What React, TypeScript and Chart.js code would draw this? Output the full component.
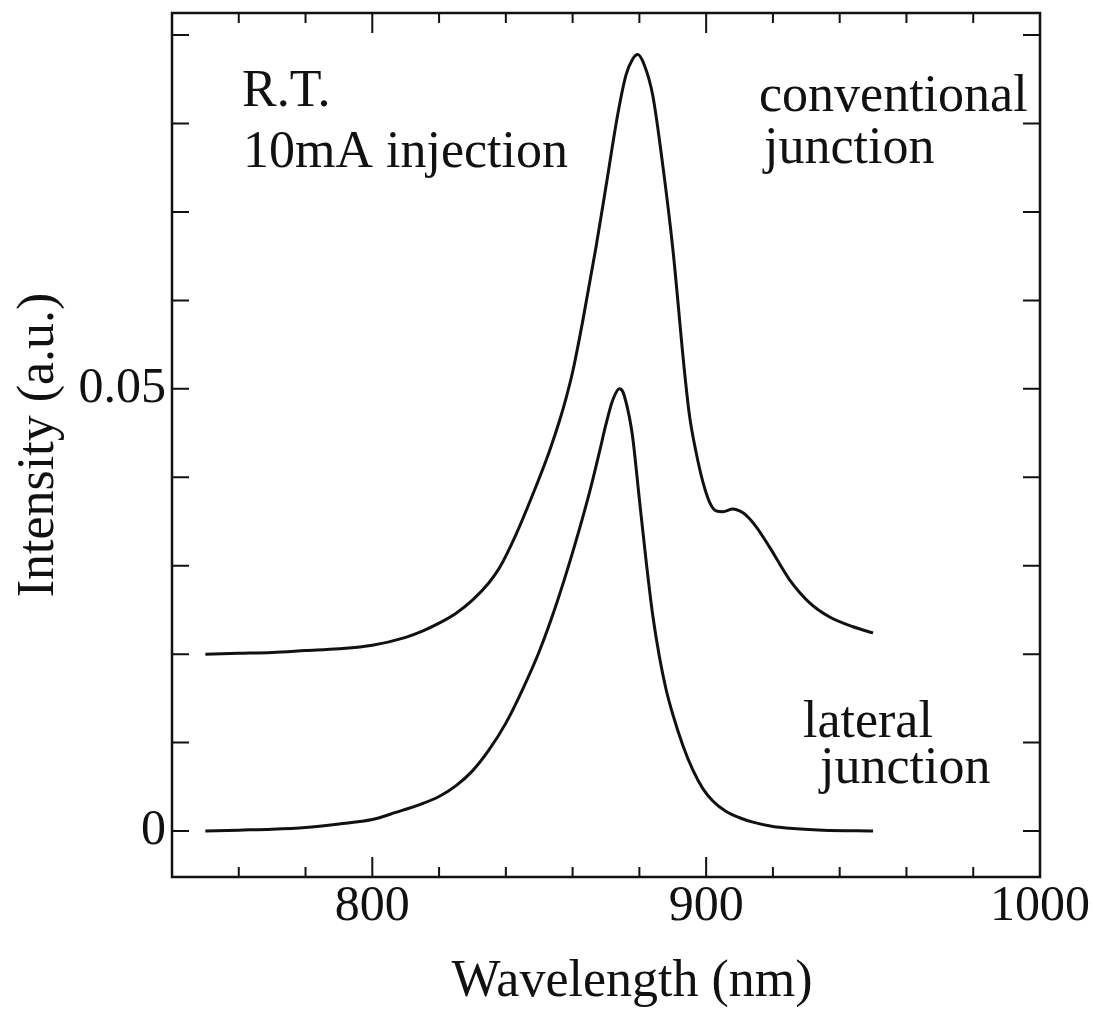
import React, { useEffect, useRef } from 'react';
import { Chart, registerables } from 'chart.js';

Chart.register(...registerables);

// Wavelength (nm) and intensity (a.u.)
const conventionalWavelength = [
  750, 760, 770, 780, 790, 800, 810, 815, 820, 825, 830, 835, 838, 843, 848, 853, 856, 858, 860, 863,
  867, 870, 873.5, 876, 878, 879.5, 881.5, 884, 887, 890, 893.5, 895, 897, 899, 901, 903, 905, 908, 910,
  912, 915, 919, 925, 931, 937, 944, 950,
];
const conventionalIntensity = [
  0.0200, 0.0201, 0.0202, 0.0204, 0.0206, 0.0210, 0.0219, 0.0226, 0.0235, 0.0246, 0.0261, 0.0281, 0.0297,
  0.0335, 0.0380, 0.0429, 0.0463, 0.0489, 0.0519, 0.0576, 0.0660, 0.0729, 0.0810, 0.0855, 0.0873, 0.0878,
  0.0866, 0.0832, 0.0753, 0.0659, 0.0520, 0.0470, 0.0428, 0.0395, 0.0372, 0.0362, 0.0361, 0.0364, 0.0362,
  0.0357, 0.0344, 0.0321, 0.0284, 0.0258, 0.0242, 0.0231, 0.0224,
];

const lateralWavelength = [
  750, 760, 770, 780, 790, 800, 807, 815, 820, 825, 830, 835, 840, 845, 850, 855, 860, 865, 868, 870,
  872, 874, 875, 876, 877, 878, 880, 882, 884, 886, 888, 890, 893, 896, 899, 902, 906, 910, 914, 920,
  925, 935, 950,
];
const lateralIntensity = [
  0.0000, 0.0001, 0.0002, 0.0004, 0.0008, 0.0013, 0.0021, 0.0031, 0.0039, 0.0051, 0.0068, 0.0092, 0.0122,
  0.0160, 0.0203, 0.0255, 0.0315, 0.0382, 0.0428, 0.0460, 0.0487, 0.0500, 0.0497, 0.0485, 0.0468, 0.0445,
  0.0375, 0.0306, 0.0244, 0.0197, 0.0160, 0.0132, 0.0097, 0.0069, 0.0048, 0.0034, 0.0022, 0.0015, 0.0010,
  0.0005, 0.0003, 0.0001, 0.0000,
];

const xTickValues = [760, 780, 800, 820, 840, 860, 880, 900, 920, 940, 960, 980, 1000];
const xTickLabels = ['', '', '800', '', '', '', '', '900', '', '', '', '', '1000'];
const yTickValues = [0, 0.01, 0.02, 0.03, 0.04, 0.05, 0.06, 0.07, 0.08, 0.09];
const yTickLabels = ['0', '', '', '', '', '0.05', '', '', '', ''];
const annotationTexts = ['R.T.', '10mA injection', 'conventional', 'junction', 'lateral', 'junction'];

const xTitle = 'Wavelength (nm)';
const yTitle = 'Intensity (a.u.)';

const FONT = '"Liberation Serif", "Times New Roman", serif';

const framePlugin = {
  id: 'frame',
  afterDraw(chart: any) {
    const { ctx, chartArea: a, scales } = chart;
    const xs = scales.x;
    const ys = scales.y;
    ctx.save();
    ctx.strokeStyle = '#111';
    ctx.lineWidth = 2.5;
    ctx.strokeRect(a.left, a.top, a.right - a.left, a.bottom - a.top);
    ctx.lineWidth = 2;
    ctx.beginPath();
    xTickValues.forEach((v, i) => {
      if (v <= xs.min || v >= xs.max) return;
      const px = xs.getPixelForValue(v);
      const len = xTickLabels[i] !== '' ? 20 : 10;
      ctx.moveTo(px, a.bottom);
      ctx.lineTo(px, a.bottom - len);
      ctx.moveTo(px, a.top);
      ctx.lineTo(px, a.top + len);
    });
    yTickValues.forEach((v) => {
      if (v < ys.min || v > ys.max) return;
      const py = ys.getPixelForValue(v);
      ctx.moveTo(a.left, py);
      ctx.lineTo(a.left + 17, py);
      ctx.moveTo(a.right, py);
      ctx.lineTo(a.right - 17, py);
    });
    ctx.stroke();

    ctx.fillStyle = '#111';
    ctx.font = `52px ${FONT}`;
    ctx.textAlign = 'left';
    ctx.textBaseline = 'alphabetic';
    const pos = [
      [242, 106],
      [243, 167],
      [759, 111],
      [764, 163],
      [803, 737],
      [820, 783],
    ];
    annotationTexts.forEach((s, i) => ctx.fillText(s, pos[i][0], pos[i][1]));
    ctx.restore();
  },
};

export default function App() {
  const ref = useRef<HTMLCanvasElement | null>(null);

  useEffect(() => {
    if (!ref.current) return;
    const chart = new Chart(ref.current, {
      type: 'line',
      data: {
        datasets: [
          {
            label: 'conventional junction',
            data: conventionalWavelength.map((x, i) => ({ x, y: conventionalIntensity[i] })),
            borderColor: '#111',
            borderWidth: 3,
            pointRadius: 0,
            cubicInterpolationMode: 'monotone',
            fill: false,
          },
          {
            label: 'lateral junction',
            data: lateralWavelength.map((x, i) => ({ x, y: lateralIntensity[i] })),
            borderColor: '#111',
            borderWidth: 3,
            pointRadius: 0,
            cubicInterpolationMode: 'monotone',
            fill: false,
          },
        ],
      },
      options: {
        animation: false,
        responsive: false,
        devicePixelRatio: 1,
        layout: { padding: { left: 0, top: 13, right: 53, bottom: 0 } },
        plugins: { legend: { display: false }, tooltip: { enabled: false } },
        scales: {
          x: {
            type: 'linear',
            min: 740,
            max: 1000,
            grid: { display: false, drawTicks: false },
            border: { display: false },
            afterBuildTicks: (s: any) => {
              s.ticks = xTickValues.map((v) => ({ value: v }));
            },
            ticks: {
              autoSkip: false,
              maxRotation: 0,
              minRotation: 0,
              padding: 0,
              color: '#111',
              font: { family: FONT, size: 50 },
              callback: (v: any) => {
                const idx = xTickValues.findIndex((t) => Math.abs(t - Number(v)) < 1e-6);
                return idx >= 0 ? xTickLabels[idx] : '';
              },
            },
            title: {
              display: true,
              text: '    ' + xTitle,
              color: '#111',
              font: { family: FONT, size: 52 },
              padding: { top: 0, bottom: 3 },
            },
            afterFit: (s: any) => {
              s.height = 140;
              s.paddingLeft = 0;
            },
          },
          y: {
            type: 'linear',
            min: -0.0052,
            max: 0.0925,
            grid: { display: false, drawTicks: false },
            border: { display: false },
            afterBuildTicks: (s: any) => {
              s.ticks = yTickValues.map((v) => ({ value: v }));
            },
            ticks: {
              autoSkip: false,
              padding: 6,
              color: '#111',
              font: { family: FONT, size: 50 },
              callback: (v: any) => {
                const idx = yTickValues.findIndex((t) => Math.abs(t - Number(v)) < 1e-9);
                return idx >= 0 ? yTickLabels[idx] : '';
              },
            },
            title: {
              display: true,
              text: yTitle,
              color: '#111',
              font: { family: FONT, size: 52 },
              padding: { top: 8, bottom: 0 },
            },
            afterFit: (s: any) => {
              s.width = 172;
              s.paddingTop = 0;
              s.paddingBottom = 0;
            },
          },
        },
      },
      plugins: [framePlugin],
    } as any);
    return () => chart.destroy();
  }, []);

  return (
    <div style={{ position: 'absolute', left: 0, top: 0, width: 1093, height: 1017, background: '#fff' }}>
      <canvas ref={ref} width={1093} height={1017} style={{ display: 'block' }} />
    </div>
  );
}
